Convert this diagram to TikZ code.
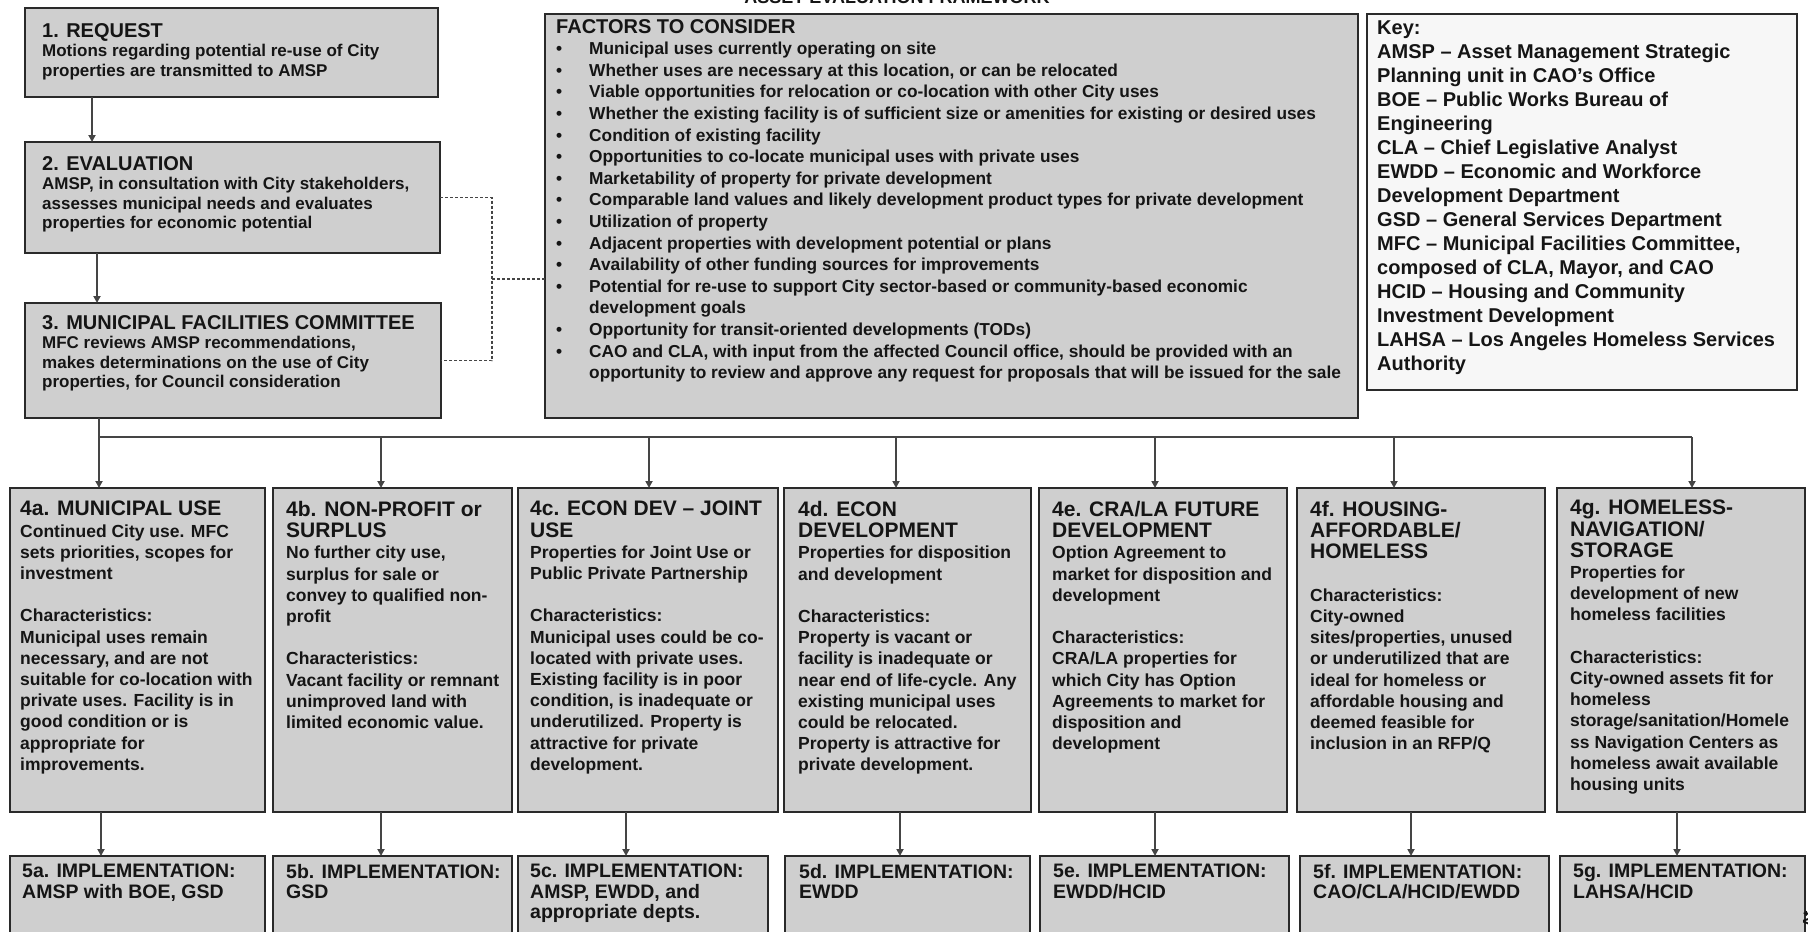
\documentclass[tikz,border=0pt]{standalone}
\usepackage{fontspec}
\setmainfont{Liberation Sans}
\usetikzlibrary{arrows.meta,calc}
\definecolor{boxgray}{HTML}{CFCFCF}
\definecolor{keyfill}{HTML}{F7F7F7}
\definecolor{edgec}{HTML}{2A2A2A}
\definecolor{inkc}{HTML}{151515}
\definecolor{connc}{HTML}{454545}
\newcommand\facb{\makebox[33pt][l]{\textbullet}}
\newcommand\facc{\hspace*{33pt}}
\newcommand\hd[1]{{\fontsize{20}{21}\selectfont #1}}
\newcommand\hdr[1]{{\fontsize{21}{21.5}\selectfont #1}}
\newcommand\rbox[6]{\node[#1, minimum width={(#5)-(#3)}, minimum height={(#6)-(#4)}] (#2) at (#3,#4) {};}
\begin{document}
\begin{tikzpicture}[x=1pt,y=-1pt,
 box/.style={draw=edgec,line width=1.4pt,fill=boxgray,anchor=north west,inner sep=0pt,outer sep=0pt},
 keybox/.style={box,fill=keyfill},
 txt/.style={anchor=north west,inner sep=0pt,align=left,text=inkc,font=\bfseries\fontsize{17}{19.5}\selectfont},
 txtf/.style={txt,font=\bfseries\fontsize{17.3}{21.6}\selectfont},
 txtk/.style={txt,font=\bfseries\fontsize{20}{24}\selectfont},
 txtr/.style={txt,font=\bfseries\fontsize{17.5}{21.2}\selectfont},
 txti/.style={txt,font=\bfseries\fontsize{19.5}{20.5}\selectfont},
 conn/.style={draw=connc,line width=1.8pt},
 arr/.style={conn,-{Triangle[length=7pt,width=7pt]}},
 bracket/.style={draw=connc,line width=1.2pt,dash pattern=on 3pt off 2pt}]
\useasboundingbox (0,0) rectangle (1808,932);
\fill[white] (0,0) rectangle (1808,932);
\clip (0,0) rectangle (1808,932);

% title (cut off at the top edge)
\node[anchor=base,inner sep=0pt,text=inkc,font=\bfseries\fontsize{18}{20}\selectfont] (ttl) at (897,3) {ASSET EVALUATION FRAMEWORK};

% top-left process boxes
\rbox{box}{b1}{25}{8}{438}{97}
\rbox{box}{b2}{25}{142}{440}{253}
\rbox{box}{b3}{25}{303}{441}{418}
\node[txt] (t1) at ($(b1.north west)+(17,15)$) {\hd{1. REQUEST}\\Motions regarding potential re-use of City\\properties are transmitted to AMSP};
\node[txt] (t2) at ($(b2.north west)+(17,14)$) {\hd{2. EVALUATION}\\AMSP, in consultation with City stakeholders,\\assesses municipal needs and evaluates\\properties for economic potential};
\node[txt] (t3) at ($(b3.north west)+(17,12)$) {\hd{3. MUNICIPAL FACILITIES COMMITTEE}\\MFC reviews AMSP recommendations,\\makes determinations on the use of City\\properties, for Council consideration};

% factors box
\rbox{box}{fac}{545}{14}{1358}{418}
\node[txtf] (tf) at ($(fac.north west)+(11,5)$) {\hd{FACTORS TO CONSIDER}\\
\facb Municipal uses currently operating on site\\
\facb Whether uses are necessary at this location, or can be relocated\\
\facb Viable opportunities for relocation or co-location with other City uses\\
\facb Whether the existing facility is of sufficient size or amenities for existing or desired uses\\
\facb Condition of existing facility\\
\facb Opportunities to co-locate municipal uses with private uses\\
\facb Marketability of property for private development\\
\facb Comparable land values and likely development product types for private development\\
\facb Utilization of property\\
\facb Adjacent properties with development potential or plans\\
\facb Availability of other funding sources for improvements\\
\facb Potential for re-use to support City sector-based or community-based economic\\
\facc development goals\\
\facb Opportunity for transit-oriented developments (TODs)\\
\facb CAO and CLA, with input from the affected Council office, should be provided with an\\
\facc opportunity to review and approve any request for proposals that will be issued for the sale};

% key box
\rbox{keybox}{key}{1367}{14}{1797}{390}
\node[txtk] (tk) at ($(key.north west)+(10,7)$) {Key:\\
AMSP – Asset Management Strategic\\
Planning unit in CAO’s Office\\
BOE – Public Works Bureau of\\
Engineering\\
CLA – Chief Legislative Analyst\\
EWDD – Economic and Workforce\\
Development Department\\
GSD – General Services Department\\
MFC – Municipal Facilities Committee,\\
composed of CLA, Mayor, and CAO\\
HCID – Housing and Community\\
Investment Development\\
LAHSA – Los Angeles Homeless Services\\
Authority};

% row 4 boxes
\rbox{box}{r4a}{10}{488}{265}{812}
\rbox{box}{r4b}{273}{488}{512}{812}
\rbox{box}{r4c}{518}{488}{778}{812}
\rbox{box}{r4d}{784}{488}{1031}{812}
\rbox{box}{r4e}{1039}{488}{1287}{812}
\rbox{box}{r4f}{1297}{488}{1545}{812}
\rbox{box}{r4g}{1557}{488}{1805}{812}

\node[txtr] (t4a) at ($(r4a.north west)+(10,13)$) {\hdr{4a. MUNICIPAL USE}\\Continued City use. MFC\\sets priorities, scopes for\\investment\\[21.2pt]Characteristics:\\Municipal uses remain\\necessary, and are not\\suitable for co-location with\\private uses. Facility is in\\good condition or is\\appropriate for\\improvements.};
\node[txtr] (t4b) at ($(r4b.north west)+(13,13)$) {\hdr{4b. NON-PROFIT or}\\\hdr{SURPLUS}\\No further city use,\\surplus for sale or\\convey to qualified non-\\profit\\[21.2pt]Characteristics:\\Vacant facility or remnant\\unimproved land with\\limited economic value.};
\node[txtr] (t4c) at ($(r4c.north west)+(12,13)$) {\hdr{4c. ECON DEV – JOINT}\\\hdr{USE}\\Properties for Joint Use or\\Public Private Partnership\\[21.2pt]Characteristics:\\Municipal uses could be co-\\located with private uses.\\Existing facility is in poor\\condition, is inadequate or\\underutilized. Property is\\attractive for private\\development.};
\node[txtr] (t4d) at ($(r4d.north west)+(14,13)$) {\hdr{4d. ECON}\\\hdr{DEVELOPMENT}\\Properties for disposition\\and development\\[21.2pt]Characteristics:\\Property is vacant or\\facility is inadequate or\\near end of life-cycle. Any\\existing municipal uses\\could be relocated.\\Property is attractive for\\private development.};
\node[txtr] (t4e) at ($(r4e.north west)+(13,13)$) {\hdr{4e. CRA/LA FUTURE}\\\hdr{DEVELOPMENT}\\Option Agreement to\\market for disposition and\\development\\[21.2pt]Characteristics:\\CRA/LA properties for\\which City has Option\\Agreements to market for\\disposition and\\development};
\node[txtr] (t4f) at ($(r4f.north west)+(13,13)$) {\hdr{4f. HOUSING-}\\\hdr{AFFORDABLE/}\\\hdr{HOMELESS}\\[21.2pt]Characteristics:\\City-owned\\sites/properties, unused\\or underutilized that are\\ideal for homeless or\\affordable housing and\\deemed feasible for\\inclusion in an RFP/Q};
\node[txtr] (t4g) at ($(r4g.north west)+(13,12)$) {\hdr{4g. HOMELESS-}\\\hdr{NAVIGATION/}\\\hdr{STORAGE}\\Properties for\\development of new\\homeless facilities\\[21.2pt]Characteristics:\\City-owned assets fit for\\homeless\\storage/sanitation/Homele\\ss Navigation Centers as\\homeless await available\\housing units};

% row 5 boxes
\rbox{box}{r5a}{10}{856}{265}{960}
\rbox{box}{r5b}{273}{856}{512}{960}
\rbox{box}{r5c}{518}{856}{768}{960}
\rbox{box}{r5d}{785}{856}{1030}{960}
\rbox{box}{r5e}{1040}{856}{1289}{960}
\rbox{box}{r5f}{1300}{856}{1549}{960}
\rbox{box}{r5g}{1560}{856}{1805}{960}
\node[txti] (t5a) at ($(r5a.north west)+(12,8)$) {5a. IMPLEMENTATION:\\AMSP with BOE, GSD};
\node[txti] (t5b) at ($(r5b.north west)+(13,8)$) {5b. IMPLEMENTATION:\\GSD};
\node[txti] (t5c) at ($(r5c.north west)+(12,8)$) {5c. IMPLEMENTATION:\\AMSP, EWDD, and\\appropriate depts.};
\node[txti] (t5d) at ($(r5d.north west)+(14,8)$) {5d. IMPLEMENTATION:\\EWDD};
\node[txti] (t5e) at ($(r5e.north west)+(13,8)$) {5e. IMPLEMENTATION:\\EWDD/HCID};
\node[txti] (t5f) at ($(r5f.north west)+(13,8)$) {5f. IMPLEMENTATION:\\CAO/CLA/HCID/EWDD};
\node[txti] (t5g) at ($(r5g.north west)+(13,8)$) {5g. IMPLEMENTATION:\\LAHSA/HCID};

% page-edge fragment
\node[anchor=north west,rotate=90,inner sep=0pt,text=inkc,font=\bfseries\fontsize{16}{18}\selectfont] (edge) at (1803,928) {At};

% connectors, top column
\draw[arr] ($(b1.south west)+(67,0)$) -- ($(b2.north west)+(67,0)$);
\draw[arr] ($(b2.south west)+(72,0)$) -- ($(b3.north west)+(72,0)$);

% bracket to factors
\draw[bracket] (b2.east) -- ++(52,0) coordinate (brT) -- (brT |- b3.east) -- (b3.east);
\coordinate (brM) at ($(brT)!0.5!(brT |- b3.east)$);
\draw[bracket] (brM) -- (brM -| fac.west);

% bus
\coordinate (a4a) at ($(r4a.north west)+(89,0)$);
\coordinate (a4b) at ($(r4b.north west)+(108,0)$);
\coordinate (a4c) at ($(r4c.north west)+(131,0)$);
\coordinate (a4d) at ($(r4d.north west)+(112,0)$);
\coordinate (a4e) at ($(r4e.north west)+(116,0)$);
\coordinate (a4f) at ($(r4f.north west)+(97,0)$);
\coordinate (a4g) at ($(r4g.north west)+(135,0)$);
\coordinate (busy) at (0,437);
\draw[arr] (a4a |- b3.south) -- (a4a);
\draw[conn] (a4a |- busy) -- (a4g |- busy);
\foreach \n in {a4b,a4c,a4d,a4e,a4f,a4g}{\draw[arr] (\n |- busy) -- (\n);}

% row 4 -> row 5
\coordinate (s4a) at ($(r4a.south west)+(91,0)$);
\coordinate (s4b) at ($(r4b.south west)+(108,0)$);
\coordinate (s4c) at ($(r4c.south west)+(108,0)$);
\coordinate (s4d) at ($(r4d.south west)+(116,0)$);
\coordinate (s4e) at ($(r4e.south west)+(116,0)$);
\coordinate (s4f) at ($(r4f.south west)+(114,0)$);
\coordinate (s4g) at ($(r4g.south west)+(120,0)$);
\draw[arr] (s4a) -- (s4a |- r5a.north);
\draw[arr] (s4b) -- (s4b |- r5b.north);
\draw[arr] (s4c) -- (s4c |- r5c.north);
\draw[arr] (s4d) -- (s4d |- r5d.north);
\draw[arr] (s4e) -- (s4e |- r5e.north);
\draw[arr] (s4f) -- (s4f |- r5f.north);
\draw[arr] (s4g) -- (s4g |- r5g.north);
\end{tikzpicture}
\end{document}
